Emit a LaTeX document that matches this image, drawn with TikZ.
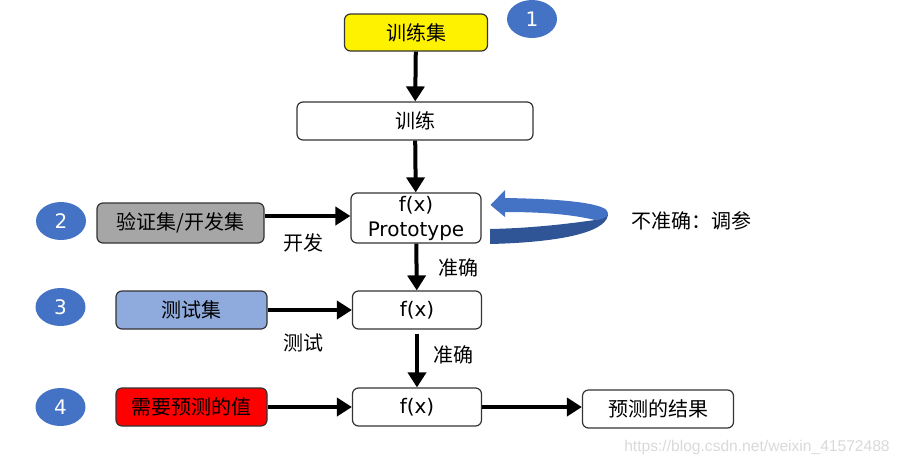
\documentclass[tikz,border=0pt]{standalone}
\usepackage{fontspec}
\setmainfont{DejaVu Sans}
\newfontfamily\cjk{Noto Sans CJK SC}
\newfontfamily\wmfont{Liberation Sans}
\usetikzlibrary{arrows.meta,shapes.geometric}
\definecolor{numblue}{HTML}{4472C4}
\definecolor{banddark}{HTML}{2F5597}
\definecolor{testblue}{HTML}{8FAADC}
\definecolor{devgray}{HTML}{A6A6A6}
\begin{document}
\begin{tikzpicture}[x=1pt,y=-1pt,
	box/.style = {draw=black!80, line width=1.2pt, rounded corners=6pt, inner sep=0pt, font=\fontsize{20}{22}\selectfont, align=center},
	num/.style = {ellipse, fill=numblue, inner sep=0pt, minimum width=50pt, minimum height=38pt, text=white, font=\fontsize{20}{22}\selectfont},
	arr/.style = {line width=4pt, -{Triangle[length=15pt,width=18pt]}},
	lbl/.style = {font=\fontsize{20}{22}\selectfont\cjk}]
	\useasboundingbox (0,0) rectangle (902,467);
	% boxes
	\node[box, fill=yellow, minimum width=143pt, minimum height=37pt] (trainset) at (416,32.5) {\cjk 训练集};
	\node[box, minimum width=236pt, minimum height=38pt] (train) at (415,121) {\cjk 训练};
	\node[box, minimum width=130pt, minimum height=50pt, font=\fontsize{20}{25}\selectfont] (proto) at (416,218) {f(x)\\Prototype};
	\node[box, fill=devgray, minimum width=167pt, minimum height=40pt] (dev) at (180.5,223) {\cjk 验证集/开发集};
	\node[box, fill=testblue, minimum width=151pt, minimum height=38pt] (test) at (191.5,310) {\cjk 测试集};
	\node[box, fill=red, minimum width=151pt, minimum height=38pt] (input) at (191.5,407) {\cjk 需要预测的值};
	\node[box, minimum width=129pt, minimum height=38pt] (fx1) at (417,310) {f(x)};
	\node[box, minimum width=129pt, minimum height=38pt] (fx2) at (417,407) {f(x)};
	\node[box, minimum width=151pt, minimum height=38pt] (result) at (658,409) {\cjk 预测的结果};
	% numbers
	\node[num] (n1) at (532,19) {1};
	\node[num] (n2) at (61,221) {2};
	\node[num] (n3) at (60.5,307) {3};
	\node[num] (n4) at (60.5,407) {4};
	% labels
	\node[lbl] (l1) at (303,243) {开发};
	\node[lbl] (l2) at (303,343) {测试};
	\node[lbl] (l3) at (458,268) {准确};
	\node[lbl] (l4) at (453,355) {准确};
	\node[lbl] (l5) at (691,221) {不准确：调参};
	% arrows
	\draw[arr] (trainset) -- (train);
	\draw[arr] (train) -- (proto);
	\draw[arr] (proto) -- (fx1);
	\draw[arr, shorten <=4pt] (fx1) -- (fx2);
	\draw[arr] ([yshift=7pt]dev.east) -- ([yshift=2pt]proto.west);
	\draw[arr] (test) -- (fx1);
	\draw[arr] (input) -- (fx2);
	\draw[arr] (fx2) -- (result.west |- fx2);
	% curved arrow
	\fill[banddark] (490,229) .. controls (540,228) and (580,222) .. (595,220)
		.. controls (602,219) and (608,216) .. (608,213)
		.. controls (609,230) and (570,242) .. (490,244) -- cycle;
	\fill[numblue] (505,198) .. controls (570,199) and (608,204) .. (608,213)
		.. controls (608,218) and (600,220) .. (595,220)
		.. controls (570,214) and (540,212) .. (505,212) -- cycle;
	\fill[numblue] (505,190) -- (490.5,205) -- (505,217) -- cycle;
	% watermark
	\node[text=black!15, font=\fontsize{15.6}{18}\selectfont\wmfont] (wm) at (757,447) {https://blog.csdn.net/weixin\_41572488};
\end{tikzpicture}
\end{document}
